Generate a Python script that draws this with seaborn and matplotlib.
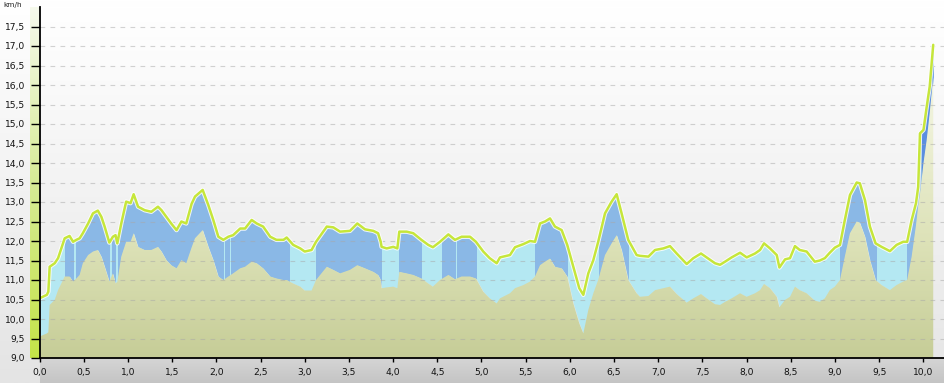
import numpy as np
import matplotlib
matplotlib.use("Agg")
import matplotlib.pyplot as plt
from matplotlib.colors import LinearSegmentedColormap
from matplotlib.patches import Rectangle
from matplotlib.ticker import FuncFormatter
import seaborn as sns

# ---------------- data ----------------
distance_km = [
    0.00, 0.083, 0.10, 0.115, 0.172, 0.21, 0.285, 0.34, 0.38, 0.417, 0.454, 0.49, 0.55,
    0.605, 0.66, 0.70, 0.737, 0.79, 0.83, 0.86, 0.88, 0.925, 0.98, 1.03, 1.065, 1.115,
    1.19, 1.265, 1.34, 1.38, 1.435, 1.49, 1.55, 1.605, 1.66, 1.72, 1.759, 1.846, 1.91,
    1.966, 2.023, 2.08, 2.136, 2.19, 2.27, 2.325, 2.40, 2.457, 2.53, 2.61, 2.68, 2.76,
    2.796, 2.87, 2.95, 3.00, 3.078, 3.128, 3.25, 3.324, 3.40, 3.512, 3.595, 3.682, 3.776,
    3.83, 3.86, 3.87, 3.927, 4.002, 4.048, 4.07, 4.153, 4.228, 4.32, 4.398, 4.45, 4.53,
    4.625, 4.70, 4.775, 4.87, 4.937, 5.02, 5.093, 5.172, 5.209, 5.322, 5.379, 5.473,
    5.549, 5.605, 5.662, 5.718, 5.775, 5.831, 5.907, 5.97, 6.039, 6.106, 6.152, 6.208,
    6.265, 6.32, 6.397, 6.472, 6.529, 6.585, 6.66, 6.755, 6.793, 6.888, 6.963, 7.057,
    7.132, 7.208, 7.321, 7.396, 7.483, 7.547, 7.641, 7.698, 7.755, 7.83, 7.925, 8.00,
    8.094, 8.151, 8.196, 8.264, 8.34, 8.37, 8.434, 8.49, 8.546, 8.60, 8.678, 8.77, 8.827,
    8.884, 8.94, 8.997, 9.055, 9.11, 9.168, 9.244, 9.28, 9.338, 9.394, 9.458, 9.526,
    9.62, 9.695, 9.77, 9.815, 9.866, 9.915, 9.94, 9.96, 10.00, 10.036, 10.07, 10.11,
]
upper_kmh = [
    10.53, 10.62, 10.70, 11.34, 11.43, 11.56, 12.07, 12.13, 11.98, 12.03, 12.07, 12.20, 12.45,
    12.71, 12.78, 12.62, 12.37, 11.96, 12.11, 12.15, 11.94, 12.45, 13.01, 12.97, 13.20, 12.88,
    12.79, 12.75, 12.88, 12.79, 12.62, 12.45, 12.28, 12.50, 12.45, 12.95, 13.14, 13.31, 12.92,
    12.54, 12.11, 12.03, 12.11, 12.15, 12.32, 12.32, 12.54, 12.45, 12.37, 12.11, 12.03, 12.03,
    12.09, 11.90, 11.81, 11.73, 11.77, 11.98, 12.37, 12.35, 12.24, 12.26, 12.45, 12.30, 12.26,
    12.20, 11.98, 11.85, 11.81, 11.85, 11.81, 12.24, 12.24, 12.20, 12.03, 11.90, 11.84, 11.98,
    12.17, 12.03, 12.11, 12.11, 11.98, 11.73, 11.56, 11.43, 11.58, 11.64, 11.84, 11.92,
    12.00, 11.98, 12.45, 12.50, 12.58, 12.37, 12.28, 11.90, 11.34, 10.79, 10.62, 11.17,
    11.51, 11.98, 12.71, 13.01, 13.20, 12.71, 12.03, 11.64, 11.62, 11.60, 11.77, 11.81,
    11.87, 11.68, 11.41, 11.56, 11.68, 11.58, 11.43, 11.39, 11.47, 11.58, 11.70, 11.58,
    11.68, 11.77, 11.94, 11.81, 11.64, 11.32, 11.53, 11.56, 11.87, 11.77, 11.73, 11.47, 11.50,
    11.56, 11.70, 11.83, 11.90, 12.54, 13.18, 13.50, 13.48, 13.05, 12.37, 11.94, 11.85,
    11.74, 11.90, 11.98, 11.98, 12.54, 12.97, 13.39, 14.76, 14.85, 15.44, 15.96, 17.03,
]
lower_kmh = [
    9.55, 9.63, 9.66, 10.36, 10.49, 10.74, 11.09, 11.09, 10.96, 11.04, 11.13, 11.43, 11.64,
    11.73, 11.77, 11.60, 11.34, 10.96, 11.17, 10.91, 10.95, 11.60, 11.98, 11.98, 12.20, 11.85,
    11.77, 11.77, 11.85, 11.73, 11.51, 11.38, 11.30, 11.51, 11.43, 11.83, 12.07, 12.28, 11.85,
    11.51, 11.09, 11.00, 11.09, 11.17, 11.30, 11.34, 11.47, 11.43, 11.30, 11.09, 11.04, 11.00,
    11.00, 10.91, 10.83, 10.73, 10.73, 11.00, 11.34, 11.26, 11.17, 11.26, 11.38, 11.30, 11.21,
    11.13, 11.00, 10.79, 10.81, 10.83, 10.79, 11.21, 11.17, 11.13, 11.04, 10.91, 10.83, 11.00,
    11.13, 11.02, 11.09, 11.09, 11.04, 10.70, 10.53, 10.40, 10.53, 10.66, 10.79, 10.87,
    10.96, 11.09, 11.38, 11.47, 11.55, 11.34, 11.30, 11.09, 10.40, 9.89, 9.63, 10.23,
    10.66, 11.00, 11.64, 11.94, 12.15, 11.77, 11.00, 10.66, 10.57, 10.59, 10.74, 10.79,
    10.83, 10.64, 10.42, 10.53, 10.64, 10.53, 10.38, 10.36, 10.44, 10.53, 10.66, 10.57,
    10.66, 10.74, 10.90, 10.79, 10.57, 10.30, 10.49, 10.57, 10.83, 10.74, 10.66, 10.47, 10.44,
    10.53, 10.74, 10.83, 11.00, 11.60, 12.20, 12.50, 12.47, 12.11, 11.51, 11.00, 10.87,
    10.74, 10.87, 10.96, 11.00, 11.60, 12.40, 12.90, 13.20, 14.00, 14.59, 15.28, 16.20,
]
# segments of the band between the two curves drawn in the darker blue
dark_start_km = [0.285, 0.415, 0.816, 0.883, 2.095, 2.162, 2.702, 2.735, 3.128, 4.07,
                 4.55, 4.726, 5.605, 6.33, 9.055, 9.815]
dark_end_km = [0.377, 0.786, 0.853, 2.072, 2.147, 2.690, 2.720, 2.82, 3.86, 4.32,
               4.70, 4.937, 5.97, 6.66, 9.458, 9.98]
# segment drawn in the bright blue
bright_start_km = [9.98]
bright_end_km = [10.11]

y_ticks = [9.0 + 0.5 * i for i in range(18)]
x_ticks = [0.5 * i for i in range(21)]
y_unit = "km/h"

# ---------------- styling ----------------
sns.set_theme(style="white")
plt.rcParams["font.family"] = ["DejaVu Sans"]
plt.rcParams["lines.scale_dashes"] = False

W, H = 945, 383
fig = plt.figure(figsize=(W / 100, H / 100), dpi=100)

def vgrad(ax, colors, extent, zorder=0):
    cmap = LinearSegmentedColormap.from_list("g", colors)
    g = np.linspace(0, 1, 256).reshape(-1, 1)
    return ax.imshow(g, cmap=cmap, aspect="auto", origin="lower",
                     extent=extent, zorder=zorder, interpolation="bilinear")

# figure background gradient
bg = fig.add_axes([0, 0, 1, 1])
bg.set_axis_off()
vgrad(bg, ["#e4e4e4", "#f2f2f2", "#ffffff"], [0, 1, 0, 1])
bg.set_xlim(0, 1); bg.set_ylim(0, 1)

# bottom band under the plot
left_px, bottom_px, top_px = 39.5, 25, 7
band = fig.add_axes([left_px / W, 0, 1 - left_px / W, bottom_px / H])
band.set_axis_off()
vgrad(band, ["#c4c4c4", "#d6d6d6"], [0, 1, 0, 1])
band.set_xlim(0, 1); band.set_ylim(0, 1)

# green colour bar on the left of the y axis
bar = fig.add_axes([30 / W, bottom_px / H, 9.5 / W, (H - bottom_px - top_px) / H])
bar.set_axis_off()
vgrad(bar, ["#c4e448", "#d6eb96", "#f6faec"], [0, 1, 0, 1])
bar.set_xlim(0, 1); bar.set_ylim(0, 1)

# main axes
ax = fig.add_axes([left_px / W, bottom_px / H, 1 - left_px / W,
                   (H - bottom_px - top_px) / H])
ax.patch.set_alpha(0)
xmax = (W - left_px) / 88.4
ymin, ymax = 9.0, 18.0

vgrad(ax, ["#e7e7e7", "#f3f3f3", "#ffffff"], [0, xmax, ymin, ymax], zorder=0)

x = np.asarray(distance_km)
up = np.asarray(upper_kmh)
lo = np.asarray(lower_kmh)

LIGHT = "#b4e8f2"
DARK = "#8ab8e6"
BRIGHT = "#5a8ee0"

ax.fill_between(x, lo, up, color=LIGHT, lw=0, zorder=2)
for s, e in zip(dark_start_km, dark_end_km):
    p = ax.fill_between(x, lo, up, color=DARK, lw=0, zorder=3)
    p.set_clip_path(Rectangle((s, ymin), e - s, ymax - ymin, transform=ax.transData))
for s, e in zip(bright_start_km, bright_end_km):
    p = ax.fill_between(x, lo, up, color=BRIGHT, lw=0, zorder=3)
    p.set_clip_path(Rectangle((s, ymin), e - s, ymax - ymin, transform=ax.transData))

# beige gradient area under the lower curve
poly = ax.fill_between(x, ymin, lo, facecolor="none", lw=0, zorder=1)
im = vgrad(ax, ["#c6cd97", "#dde2b8", "#eef1d8", "#f4f6e6"],
           [0, x[-1], ymin, ymax], zorder=3.5)
im.set_clip_path(poly.get_paths()[0], transform=ax.transData)

# dashed grid
for v in y_ticks[1:]:
    ax.axhline(v, color="#a8a8a8", alpha=0.5, lw=0.8, ls=(0, (3.4, 3.8)), zorder=4)

# upper curve
ax.plot(x, up, color="white", lw=3.2, alpha=0.85, zorder=5, solid_joinstyle="round")
sns.lineplot(x=x, y=up, ax=ax, color="#c6e63a", lw=1.8, zorder=6, sort=False,
             estimator=None)

ax.set_xlim(0, xmax)
ax.set_ylim(ymin, ymax)
ax.set_xlabel("")
ax.set_ylabel("")

fmt = FuncFormatter(lambda v, _: f"{v:.1f}".replace(".", ","))
ax.set_yticks(y_ticks)
ax.set_xticks(x_ticks)
ax.yaxis.set_major_formatter(fmt)
ax.xaxis.set_major_formatter(fmt)
ax.tick_params(axis="y", direction="out", length=6.8, width=1, color="black",
               pad=3.5, labelsize=6.6, labelcolor="#111111", left=True)
ax.tick_params(axis="x", direction="out", length=3, width=1, color="black",
               pad=4, labelsize=6.6, labelcolor="#111111", bottom=True)

for side in ["top", "right"]:
    ax.spines[side].set_visible(False)
for side in ["left", "bottom"]:
    ax.spines[side].set_visible(True)
    ax.spines[side].set_color("black")
    ax.spines[side].set_linewidth(1.3)
    ax.spines[side].set_zorder(7)

fig.text(3 / W, 1 - 5 / H, y_unit, fontsize=5.3, va="center", ha="left",
         color="#222222")

fig.savefig("out.png", dpi=100)
